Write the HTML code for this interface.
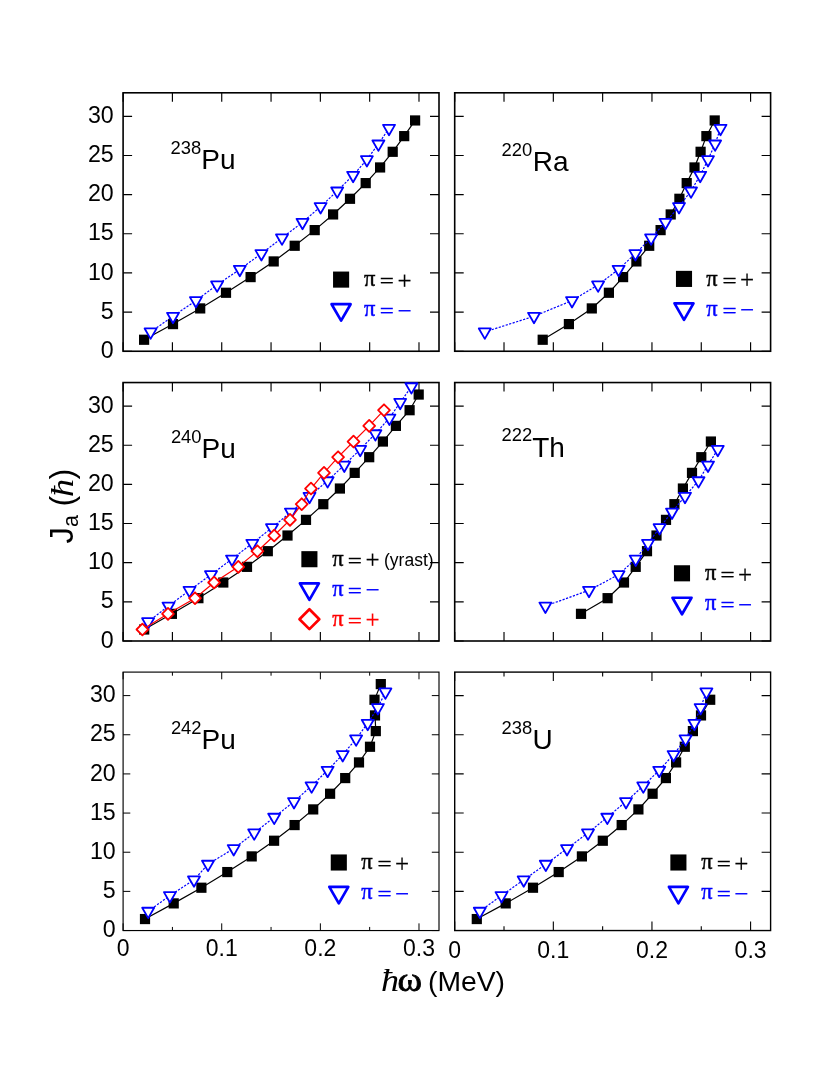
<!DOCTYPE html>
<html><head><meta charset="utf-8"><title>J_a vs hbar omega</title>
<style>
html,body{margin:0;padding:0;background:#fff;}
body{width:830px;height:1075px;overflow:hidden;font-family:"Liberation Sans",sans-serif;}
svg{display:block;will-change:transform;}
</style></head><body>
<svg width="830" height="1075" viewBox="0 0 830 1075">
<rect width="830" height="1075" fill="#fff"/>
<rect x="123.10" y="92.80" width="315.90" height="258.45" fill="none" stroke="#000" stroke-width="1.6"/>
<path d="M123.10 351.25v-9.00M123.10 92.80v9.00M172.41 351.25v-9.00M172.41 92.80v9.00M221.73 351.25v-9.00M221.73 92.80v9.00M271.05 351.25v-9.00M271.05 92.80v9.00M320.36 351.25v-9.00M320.36 92.80v9.00M369.67 351.25v-9.00M369.67 92.80v9.00M418.99 351.25v-9.00M418.99 92.80v9.00M123.10 351.25h9.00M439.00 351.25h-9.00M123.10 312.09h9.00M439.00 312.09h-9.00M123.10 272.93h9.00M439.00 272.93h-9.00M123.10 233.77h9.00M439.00 233.77h-9.00M123.10 194.61h9.00M439.00 194.61h-9.00M123.10 155.45h9.00M439.00 155.45h-9.00M123.10 116.30h9.00M439.00 116.30h-9.00" stroke="#000" stroke-width="1.15" fill="none"/>
<path d="M144.10 339.75 L173.00 324.09 L200.20 308.43 L226.00 292.76 L250.60 277.10 L273.70 261.43 L294.70 245.77 L314.70 230.11 L333.10 214.44 L350.00 198.78 L365.70 183.12 L380.10 167.45 L392.70 151.79 L404.20 136.13 L415.10 120.46" stroke="#000" stroke-width="1.2" fill="none"/>
<rect x="139.00" y="334.65" width="10.20" height="10.20" fill="#000"/>
<rect x="167.90" y="318.99" width="10.20" height="10.20" fill="#000"/>
<rect x="195.10" y="303.32" width="10.20" height="10.20" fill="#000"/>
<rect x="220.90" y="287.66" width="10.20" height="10.20" fill="#000"/>
<rect x="245.50" y="272.00" width="10.20" height="10.20" fill="#000"/>
<rect x="268.60" y="256.33" width="10.20" height="10.20" fill="#000"/>
<rect x="289.60" y="240.67" width="10.20" height="10.20" fill="#000"/>
<rect x="309.60" y="225.01" width="10.20" height="10.20" fill="#000"/>
<rect x="328.00" y="209.34" width="10.20" height="10.20" fill="#000"/>
<rect x="344.90" y="193.68" width="10.20" height="10.20" fill="#000"/>
<rect x="360.60" y="178.02" width="10.20" height="10.20" fill="#000"/>
<rect x="375.00" y="162.35" width="10.20" height="10.20" fill="#000"/>
<rect x="387.60" y="146.69" width="10.20" height="10.20" fill="#000"/>
<rect x="399.10" y="131.03" width="10.20" height="10.20" fill="#000"/>
<rect x="410.00" y="115.36" width="10.20" height="10.20" fill="#000"/>
<path d="M150.60 331.92 L173.00 316.26 L195.90 300.59 L217.10 284.93 L239.80 269.27 L261.40 253.60 L282.00 237.94 L302.50 222.28 L320.60 206.61 L337.20 190.95 L353.10 175.28 L366.90 159.62 L378.40 143.96 L389.00 128.29" stroke="#0000ff" stroke-width="1.2" fill="none" stroke-dasharray="2.2 1.45"/>
<path d="M150.60 338.85L156.60 328.46L144.60 328.46Z" fill="#fff" stroke="#0000ff" stroke-width="1.8" stroke-linejoin="round"/>
<path d="M173.00 323.19L179.00 312.79L167.00 312.79Z" fill="#fff" stroke="#0000ff" stroke-width="1.8" stroke-linejoin="round"/>
<path d="M195.90 307.52L201.90 297.13L189.90 297.13Z" fill="#fff" stroke="#0000ff" stroke-width="1.8" stroke-linejoin="round"/>
<path d="M217.10 291.86L223.10 281.47L211.10 281.47Z" fill="#fff" stroke="#0000ff" stroke-width="1.8" stroke-linejoin="round"/>
<path d="M239.80 276.19L245.80 265.80L233.80 265.80Z" fill="#fff" stroke="#0000ff" stroke-width="1.8" stroke-linejoin="round"/>
<path d="M261.40 260.53L267.40 250.14L255.40 250.14Z" fill="#fff" stroke="#0000ff" stroke-width="1.8" stroke-linejoin="round"/>
<path d="M282.00 244.87L288.00 234.47L276.00 234.47Z" fill="#fff" stroke="#0000ff" stroke-width="1.8" stroke-linejoin="round"/>
<path d="M302.50 229.20L308.50 218.81L296.50 218.81Z" fill="#fff" stroke="#0000ff" stroke-width="1.8" stroke-linejoin="round"/>
<path d="M320.60 213.54L326.60 203.15L314.60 203.15Z" fill="#fff" stroke="#0000ff" stroke-width="1.8" stroke-linejoin="round"/>
<path d="M337.20 197.88L343.20 187.48L331.20 187.48Z" fill="#fff" stroke="#0000ff" stroke-width="1.8" stroke-linejoin="round"/>
<path d="M353.10 182.21L359.10 171.82L347.10 171.82Z" fill="#fff" stroke="#0000ff" stroke-width="1.8" stroke-linejoin="round"/>
<path d="M366.90 166.55L372.90 156.16L360.90 156.16Z" fill="#fff" stroke="#0000ff" stroke-width="1.8" stroke-linejoin="round"/>
<path d="M378.40 150.89L384.40 140.49L372.40 140.49Z" fill="#fff" stroke="#0000ff" stroke-width="1.8" stroke-linejoin="round"/>
<path d="M389.00 135.22L395.00 124.83L383.00 124.83Z" fill="#fff" stroke="#0000ff" stroke-width="1.8" stroke-linejoin="round"/>
<rect x="333.05" y="271.55" width="16.10" height="16.10" fill="#000"/>
<path d="M341.10 320.67L350.60 304.22L331.60 304.22Z" fill="#fff" stroke="#0000ff" stroke-width="2.7" stroke-linejoin="round"/>
<text x="364.00" y="286.00" font-size="22.5" font-family="Liberation Serif, serif" text-anchor="start" fill="#000" stroke="#000" stroke-width="0.45">π</text>
<g transform="translate(379.75,288) scale(1.25,1)">
<text x="0.00" y="0.00" font-size="20" font-family="Liberation Serif, serif" text-anchor="start" fill="#000" stroke="#000" stroke-width="0.35">=</text>
</g>
<text x="397.45" y="289.00" font-size="25" font-family="Liberation Serif, serif" text-anchor="start" fill="#000" stroke="#000" stroke-width="0.2">+</text>
<text x="364.00" y="316.00" font-size="22.5" font-family="Liberation Serif, serif" text-anchor="start" fill="#0000ff" stroke="#0000ff" stroke-width="0.45">π</text>
<g transform="translate(379.75,318) scale(1.25,1)">
<text x="0.00" y="0.00" font-size="20" font-family="Liberation Serif, serif" text-anchor="start" fill="#0000ff" stroke="#0000ff" stroke-width="0.35">=</text>
</g>
<text x="397.45" y="319.00" font-size="25" font-family="Liberation Serif, serif" text-anchor="start" fill="#0000ff" stroke="#0000ff" stroke-width="0.2">−</text>
<text x="170.60" y="154.00" font-size="18.4" font-family="Liberation Sans, sans-serif" text-anchor="start" fill="#000">238</text>
<text x="201.30" y="169.00" font-size="28" font-family="Liberation Sans, sans-serif" text-anchor="start" fill="#000">Pu</text>
<rect x="454.70" y="92.80" width="315.90" height="258.45" fill="none" stroke="#000" stroke-width="1.6"/>
<path d="M454.70 351.25v-9.00M454.70 92.80v9.00M504.01 351.25v-9.00M504.01 92.80v9.00M553.33 351.25v-9.00M553.33 92.80v9.00M602.64 351.25v-9.00M602.64 92.80v9.00M651.96 351.25v-9.00M651.96 92.80v9.00M701.27 351.25v-9.00M701.27 92.80v9.00M750.59 351.25v-9.00M750.59 92.80v9.00M454.70 351.25h9.00M770.60 351.25h-9.00M454.70 312.09h9.00M770.60 312.09h-9.00M454.70 272.93h9.00M770.60 272.93h-9.00M454.70 233.77h9.00M770.60 233.77h-9.00M454.70 194.61h9.00M770.60 194.61h-9.00M454.70 155.45h9.00M770.60 155.45h-9.00M454.70 116.30h9.00M770.60 116.30h-9.00" stroke="#000" stroke-width="1.15" fill="none"/>
<path d="M542.70 339.75 L568.90 324.09 L591.80 308.43 L608.90 292.76 L623.10 277.10 L636.40 261.43 L649.20 245.77 L660.60 230.11 L670.70 214.44 L679.40 198.78 L686.70 183.12 L694.50 167.45 L700.60 151.79 L706.40 136.13 L714.70 120.46" stroke="#000" stroke-width="1.2" fill="none"/>
<rect x="537.60" y="334.65" width="10.20" height="10.20" fill="#000"/>
<rect x="563.80" y="318.99" width="10.20" height="10.20" fill="#000"/>
<rect x="586.70" y="303.32" width="10.20" height="10.20" fill="#000"/>
<rect x="603.80" y="287.66" width="10.20" height="10.20" fill="#000"/>
<rect x="618.00" y="272.00" width="10.20" height="10.20" fill="#000"/>
<rect x="631.30" y="256.33" width="10.20" height="10.20" fill="#000"/>
<rect x="644.10" y="240.67" width="10.20" height="10.20" fill="#000"/>
<rect x="655.50" y="225.01" width="10.20" height="10.20" fill="#000"/>
<rect x="665.60" y="209.34" width="10.20" height="10.20" fill="#000"/>
<rect x="674.30" y="193.68" width="10.20" height="10.20" fill="#000"/>
<rect x="681.60" y="178.02" width="10.20" height="10.20" fill="#000"/>
<rect x="689.40" y="162.35" width="10.20" height="10.20" fill="#000"/>
<rect x="695.50" y="146.69" width="10.20" height="10.20" fill="#000"/>
<rect x="701.30" y="131.03" width="10.20" height="10.20" fill="#000"/>
<rect x="709.60" y="115.36" width="10.20" height="10.20" fill="#000"/>
<path d="M484.80 331.92 L534.00 316.26 L572.00 300.59 L598.10 284.93 L618.60 269.27 L635.40 253.60 L651.10 237.94 L665.50 222.28 L679.00 206.61 L691.00 190.95 L700.20 175.28 L708.00 159.62 L715.10 143.96 L720.50 128.29" stroke="#0000ff" stroke-width="1.2" fill="none" stroke-dasharray="2.2 1.45"/>
<path d="M484.80 338.85L490.80 328.46L478.80 328.46Z" fill="#fff" stroke="#0000ff" stroke-width="1.8" stroke-linejoin="round"/>
<path d="M534.00 323.19L540.00 312.79L528.00 312.79Z" fill="#fff" stroke="#0000ff" stroke-width="1.8" stroke-linejoin="round"/>
<path d="M572.00 307.52L578.00 297.13L566.00 297.13Z" fill="#fff" stroke="#0000ff" stroke-width="1.8" stroke-linejoin="round"/>
<path d="M598.10 291.86L604.10 281.47L592.10 281.47Z" fill="#fff" stroke="#0000ff" stroke-width="1.8" stroke-linejoin="round"/>
<path d="M618.60 276.19L624.60 265.80L612.60 265.80Z" fill="#fff" stroke="#0000ff" stroke-width="1.8" stroke-linejoin="round"/>
<path d="M635.40 260.53L641.40 250.14L629.40 250.14Z" fill="#fff" stroke="#0000ff" stroke-width="1.8" stroke-linejoin="round"/>
<path d="M651.10 244.87L657.10 234.47L645.10 234.47Z" fill="#fff" stroke="#0000ff" stroke-width="1.8" stroke-linejoin="round"/>
<path d="M665.50 229.20L671.50 218.81L659.50 218.81Z" fill="#fff" stroke="#0000ff" stroke-width="1.8" stroke-linejoin="round"/>
<path d="M679.00 213.54L685.00 203.15L673.00 203.15Z" fill="#fff" stroke="#0000ff" stroke-width="1.8" stroke-linejoin="round"/>
<path d="M691.00 197.88L697.00 187.48L685.00 187.48Z" fill="#fff" stroke="#0000ff" stroke-width="1.8" stroke-linejoin="round"/>
<path d="M700.20 182.21L706.20 171.82L694.20 171.82Z" fill="#fff" stroke="#0000ff" stroke-width="1.8" stroke-linejoin="round"/>
<path d="M708.00 166.55L714.00 156.16L702.00 156.16Z" fill="#fff" stroke="#0000ff" stroke-width="1.8" stroke-linejoin="round"/>
<path d="M715.10 150.89L721.10 140.49L709.10 140.49Z" fill="#fff" stroke="#0000ff" stroke-width="1.8" stroke-linejoin="round"/>
<path d="M720.50 135.22L726.50 124.83L714.50 124.83Z" fill="#fff" stroke="#0000ff" stroke-width="1.8" stroke-linejoin="round"/>
<rect x="675.95" y="270.85" width="16.10" height="16.10" fill="#000"/>
<path d="M684.00 319.82L693.50 303.37L674.50 303.37Z" fill="#fff" stroke="#0000ff" stroke-width="2.7" stroke-linejoin="round"/>
<text x="706.30" y="286.00" font-size="22.5" font-family="Liberation Serif, serif" text-anchor="start" fill="#000" stroke="#000" stroke-width="0.45">π</text>
<g transform="translate(722.45,288) scale(1.25,1)">
<text x="0.00" y="0.00" font-size="20" font-family="Liberation Serif, serif" text-anchor="start" fill="#000" stroke="#000" stroke-width="0.35">=</text>
</g>
<text x="739.95" y="288.00" font-size="25" font-family="Liberation Serif, serif" text-anchor="start" fill="#000" stroke="#000" stroke-width="0.2">+</text>
<text x="706.30" y="316.00" font-size="22.5" font-family="Liberation Serif, serif" text-anchor="start" fill="#0000ff" stroke="#0000ff" stroke-width="0.45">π</text>
<g transform="translate(722.45,318) scale(1.25,1)">
<text x="0.00" y="0.00" font-size="20" font-family="Liberation Serif, serif" text-anchor="start" fill="#0000ff" stroke="#0000ff" stroke-width="0.35">=</text>
</g>
<text x="739.95" y="318.00" font-size="25" font-family="Liberation Serif, serif" text-anchor="start" fill="#0000ff" stroke="#0000ff" stroke-width="0.2">−</text>
<text x="501.60" y="156.00" font-size="18.4" font-family="Liberation Sans, sans-serif" text-anchor="start" fill="#000">220</text>
<text x="532.70" y="171.00" font-size="28" font-family="Liberation Sans, sans-serif" text-anchor="start" fill="#000">Ra</text>
<rect x="123.10" y="382.55" width="315.90" height="258.45" fill="none" stroke="#000" stroke-width="1.6"/>
<path d="M123.10 641.00v-9.00M123.10 382.55v9.00M172.41 641.00v-9.00M172.41 382.55v9.00M221.73 641.00v-9.00M221.73 382.55v9.00M271.05 641.00v-9.00M271.05 382.55v9.00M320.36 641.00v-9.00M320.36 382.55v9.00M369.67 641.00v-9.00M369.67 382.55v9.00M418.99 641.00v-9.00M418.99 382.55v9.00M123.10 641.00h9.00M439.00 641.00h-9.00M123.10 601.84h9.00M439.00 601.84h-9.00M123.10 562.68h9.00M439.00 562.68h-9.00M123.10 523.52h9.00M439.00 523.52h-9.00M123.10 484.36h9.00M439.00 484.36h-9.00M123.10 445.20h9.00M439.00 445.20h-9.00M123.10 406.05h9.00M439.00 406.05h-9.00" stroke="#000" stroke-width="1.15" fill="none"/>
<path d="M144.20 629.50 L171.90 613.84 L198.40 598.17 L223.30 582.51 L247.00 566.85 L267.80 551.18 L287.50 535.52 L306.00 519.86 L323.30 504.19 L339.90 488.53 L354.70 472.87 L369.20 457.20 L382.90 441.54 L395.90 425.88 L409.60 410.21 L418.70 394.55" stroke="#000" stroke-width="1.2" fill="none"/>
<rect x="139.10" y="624.40" width="10.20" height="10.20" fill="#000"/>
<rect x="166.80" y="608.74" width="10.20" height="10.20" fill="#000"/>
<rect x="193.30" y="593.07" width="10.20" height="10.20" fill="#000"/>
<rect x="218.20" y="577.41" width="10.20" height="10.20" fill="#000"/>
<rect x="241.90" y="561.75" width="10.20" height="10.20" fill="#000"/>
<rect x="262.70" y="546.08" width="10.20" height="10.20" fill="#000"/>
<rect x="282.40" y="530.42" width="10.20" height="10.20" fill="#000"/>
<rect x="300.90" y="514.76" width="10.20" height="10.20" fill="#000"/>
<rect x="318.20" y="499.09" width="10.20" height="10.20" fill="#000"/>
<rect x="334.80" y="483.43" width="10.20" height="10.20" fill="#000"/>
<rect x="349.60" y="467.77" width="10.20" height="10.20" fill="#000"/>
<rect x="364.10" y="452.10" width="10.20" height="10.20" fill="#000"/>
<rect x="377.80" y="436.44" width="10.20" height="10.20" fill="#000"/>
<rect x="390.80" y="420.77" width="10.20" height="10.20" fill="#000"/>
<rect x="404.50" y="405.11" width="10.20" height="10.20" fill="#000"/>
<rect x="413.60" y="389.45" width="10.20" height="10.20" fill="#000"/>
<path d="M148.10 621.67 L168.50 606.01 L189.50 590.34 L211.00 574.68 L232.00 559.02 L252.30 543.35 L272.00 527.69 L290.90 512.02 L309.50 496.36 L327.60 480.70 L344.30 465.03 L360.20 449.37 L375.40 433.71 L389.40 418.04 L400.20 402.38 L411.40 386.72" stroke="#0000ff" stroke-width="1.2" fill="none" stroke-dasharray="2.2 1.45"/>
<path d="M148.10 628.60L154.10 618.21L142.10 618.21Z" fill="#fff" stroke="#0000ff" stroke-width="1.8" stroke-linejoin="round"/>
<path d="M168.50 612.94L174.50 602.54L162.50 602.54Z" fill="#fff" stroke="#0000ff" stroke-width="1.8" stroke-linejoin="round"/>
<path d="M189.50 597.27L195.50 586.88L183.50 586.88Z" fill="#fff" stroke="#0000ff" stroke-width="1.8" stroke-linejoin="round"/>
<path d="M211.00 581.61L217.00 571.22L205.00 571.22Z" fill="#fff" stroke="#0000ff" stroke-width="1.8" stroke-linejoin="round"/>
<path d="M232.00 565.94L238.00 555.55L226.00 555.55Z" fill="#fff" stroke="#0000ff" stroke-width="1.8" stroke-linejoin="round"/>
<path d="M252.30 550.28L258.30 539.89L246.30 539.89Z" fill="#fff" stroke="#0000ff" stroke-width="1.8" stroke-linejoin="round"/>
<path d="M272.00 534.62L278.00 524.22L266.00 524.22Z" fill="#fff" stroke="#0000ff" stroke-width="1.8" stroke-linejoin="round"/>
<path d="M290.90 518.95L296.90 508.56L284.90 508.56Z" fill="#fff" stroke="#0000ff" stroke-width="1.8" stroke-linejoin="round"/>
<path d="M309.50 503.29L315.50 492.90L303.50 492.90Z" fill="#fff" stroke="#0000ff" stroke-width="1.8" stroke-linejoin="round"/>
<path d="M327.60 487.63L333.60 477.23L321.60 477.23Z" fill="#fff" stroke="#0000ff" stroke-width="1.8" stroke-linejoin="round"/>
<path d="M344.30 471.96L350.30 461.57L338.30 461.57Z" fill="#fff" stroke="#0000ff" stroke-width="1.8" stroke-linejoin="round"/>
<path d="M360.20 456.30L366.20 445.91L354.20 445.91Z" fill="#fff" stroke="#0000ff" stroke-width="1.8" stroke-linejoin="round"/>
<path d="M375.40 440.64L381.40 430.24L369.40 430.24Z" fill="#fff" stroke="#0000ff" stroke-width="1.8" stroke-linejoin="round"/>
<path d="M389.40 424.97L395.40 414.58L383.40 414.58Z" fill="#fff" stroke="#0000ff" stroke-width="1.8" stroke-linejoin="round"/>
<path d="M400.20 409.31L406.20 398.92L394.20 398.92Z" fill="#fff" stroke="#0000ff" stroke-width="1.8" stroke-linejoin="round"/>
<path d="M411.40 393.64L417.40 383.25L405.40 383.25Z" fill="#fff" stroke="#0000ff" stroke-width="1.8" stroke-linejoin="round"/>
<path d="M142.40 629.50 L168.00 613.84 L195.00 598.17 L214.10 582.51 L238.30 566.85 L257.40 551.18 L274.20 535.52 L290.00 519.86 L301.70 504.19 L311.00 488.53 L324.00 472.87 L338.10 457.20 L353.50 441.54 L369.20 425.88 L384.00 410.21" stroke="#ff0000" stroke-width="1.2" fill="none"/>
<path d="M142.40 623.60L148.30 629.50L142.40 635.40L136.50 629.50Z" fill="#fff" stroke="#ff0000" stroke-width="1.8" stroke-linejoin="round"/>
<path d="M168.00 607.94L173.90 613.84L168.00 619.74L162.10 613.84Z" fill="#fff" stroke="#ff0000" stroke-width="1.8" stroke-linejoin="round"/>
<path d="M195.00 592.27L200.90 598.17L195.00 604.07L189.10 598.17Z" fill="#fff" stroke="#ff0000" stroke-width="1.8" stroke-linejoin="round"/>
<path d="M214.10 576.61L220.00 582.51L214.10 588.41L208.20 582.51Z" fill="#fff" stroke="#ff0000" stroke-width="1.8" stroke-linejoin="round"/>
<path d="M238.30 560.95L244.20 566.85L238.30 572.75L232.40 566.85Z" fill="#fff" stroke="#ff0000" stroke-width="1.8" stroke-linejoin="round"/>
<path d="M257.40 545.28L263.30 551.18L257.40 557.08L251.50 551.18Z" fill="#fff" stroke="#ff0000" stroke-width="1.8" stroke-linejoin="round"/>
<path d="M274.20 529.62L280.10 535.52L274.20 541.42L268.30 535.52Z" fill="#fff" stroke="#ff0000" stroke-width="1.8" stroke-linejoin="round"/>
<path d="M290.00 513.96L295.90 519.86L290.00 525.76L284.10 519.86Z" fill="#fff" stroke="#ff0000" stroke-width="1.8" stroke-linejoin="round"/>
<path d="M301.70 498.29L307.60 504.19L301.70 510.09L295.80 504.19Z" fill="#fff" stroke="#ff0000" stroke-width="1.8" stroke-linejoin="round"/>
<path d="M311.00 482.63L316.90 488.53L311.00 494.43L305.10 488.53Z" fill="#fff" stroke="#ff0000" stroke-width="1.8" stroke-linejoin="round"/>
<path d="M324.00 466.97L329.90 472.87L324.00 478.77L318.10 472.87Z" fill="#fff" stroke="#ff0000" stroke-width="1.8" stroke-linejoin="round"/>
<path d="M338.10 451.30L344.00 457.20L338.10 463.10L332.20 457.20Z" fill="#fff" stroke="#ff0000" stroke-width="1.8" stroke-linejoin="round"/>
<path d="M353.50 435.64L359.40 441.54L353.50 447.44L347.60 441.54Z" fill="#fff" stroke="#ff0000" stroke-width="1.8" stroke-linejoin="round"/>
<path d="M369.20 419.98L375.10 425.88L369.20 431.77L363.30 425.88Z" fill="#fff" stroke="#ff0000" stroke-width="1.8" stroke-linejoin="round"/>
<path d="M384.00 404.31L389.90 410.21L384.00 416.11L378.10 410.21Z" fill="#fff" stroke="#ff0000" stroke-width="1.8" stroke-linejoin="round"/>
<rect x="301.35" y="551.15" width="16.10" height="16.10" fill="#000"/>
<path d="M309.40 599.87L318.90 583.42L299.90 583.42Z" fill="#fff" stroke="#0000ff" stroke-width="2.7" stroke-linejoin="round"/>
<text x="332.20" y="566.00" font-size="22.5" font-family="Liberation Serif, serif" text-anchor="start" fill="#000" stroke="#000" stroke-width="0.45">π</text>
<g transform="translate(347.85,568) scale(1.25,1)">
<text x="0.00" y="0.00" font-size="20" font-family="Liberation Serif, serif" text-anchor="start" fill="#000" stroke="#000" stroke-width="0.35">=</text>
</g>
<text x="365.45" y="568.00" font-size="25" font-family="Liberation Serif, serif" text-anchor="start" fill="#000" stroke="#000" stroke-width="0.2">+</text>
<text x="332.20" y="596.00" font-size="22.5" font-family="Liberation Serif, serif" text-anchor="start" fill="#0000ff" stroke="#0000ff" stroke-width="0.45">π</text>
<g transform="translate(347.85,598) scale(1.25,1)">
<text x="0.00" y="0.00" font-size="20" font-family="Liberation Serif, serif" text-anchor="start" fill="#0000ff" stroke="#0000ff" stroke-width="0.35">=</text>
</g>
<text x="365.45" y="598.00" font-size="25" font-family="Liberation Serif, serif" text-anchor="start" fill="#0000ff" stroke="#0000ff" stroke-width="0.2">−</text>
<path d="M309.40 609.30L319.30 619.20L309.40 629.10L299.50 619.20Z" fill="#fff" stroke="#ff0000" stroke-width="2.7" stroke-linejoin="round"/>
<text x="332.20" y="626.00" font-size="22.5" font-family="Liberation Serif, serif" text-anchor="start" fill="#ff0000" stroke="#ff0000" stroke-width="0.45">π</text>
<g transform="translate(347.85,628) scale(1.25,1)">
<text x="0.00" y="0.00" font-size="20" font-family="Liberation Serif, serif" text-anchor="start" fill="#ff0000" stroke="#ff0000" stroke-width="0.35">=</text>
</g>
<text x="365.45" y="628.00" font-size="25" font-family="Liberation Serif, serif" text-anchor="start" fill="#ff0000" stroke="#ff0000" stroke-width="0.2">+</text>
<text x="384.00" y="566.20" font-size="17.5" font-family="Liberation Sans, sans-serif" text-anchor="start" fill="#000">(yrast)</text>
<text x="170.90" y="443.00" font-size="18.4" font-family="Liberation Sans, sans-serif" text-anchor="start" fill="#000">240</text>
<text x="201.60" y="458.00" font-size="28" font-family="Liberation Sans, sans-serif" text-anchor="start" fill="#000">Pu</text>
<rect x="454.70" y="382.55" width="315.90" height="258.45" fill="none" stroke="#000" stroke-width="1.6"/>
<path d="M454.70 641.00v-9.00M454.70 382.55v9.00M504.01 641.00v-9.00M504.01 382.55v9.00M553.33 641.00v-9.00M553.33 382.55v9.00M602.64 641.00v-9.00M602.64 382.55v9.00M651.96 641.00v-9.00M651.96 382.55v9.00M701.27 641.00v-9.00M701.27 382.55v9.00M750.59 641.00v-9.00M750.59 382.55v9.00M454.70 641.00h9.00M770.60 641.00h-9.00M454.70 601.84h9.00M770.60 601.84h-9.00M454.70 562.68h9.00M770.60 562.68h-9.00M454.70 523.52h9.00M770.60 523.52h-9.00M454.70 484.36h9.00M770.60 484.36h-9.00M454.70 445.20h9.00M770.60 445.20h-9.00M454.70 406.05h9.00M770.60 406.05h-9.00" stroke="#000" stroke-width="1.15" fill="none"/>
<path d="M581.00 613.84 L607.60 598.17 L624.00 582.51 L635.70 566.85 L647.00 551.18 L656.50 535.52 L666.00 519.86 L674.40 504.19 L682.90 488.53 L692.00 472.87 L701.30 457.20 L710.90 441.54" stroke="#000" stroke-width="1.2" fill="none"/>
<rect x="575.90" y="608.74" width="10.20" height="10.20" fill="#000"/>
<rect x="602.50" y="593.07" width="10.20" height="10.20" fill="#000"/>
<rect x="618.90" y="577.41" width="10.20" height="10.20" fill="#000"/>
<rect x="630.60" y="561.75" width="10.20" height="10.20" fill="#000"/>
<rect x="641.90" y="546.08" width="10.20" height="10.20" fill="#000"/>
<rect x="651.40" y="530.42" width="10.20" height="10.20" fill="#000"/>
<rect x="660.90" y="514.76" width="10.20" height="10.20" fill="#000"/>
<rect x="669.30" y="499.09" width="10.20" height="10.20" fill="#000"/>
<rect x="677.80" y="483.43" width="10.20" height="10.20" fill="#000"/>
<rect x="686.90" y="467.77" width="10.20" height="10.20" fill="#000"/>
<rect x="696.20" y="452.10" width="10.20" height="10.20" fill="#000"/>
<rect x="705.80" y="436.44" width="10.20" height="10.20" fill="#000"/>
<path d="M545.40 606.01 L589.00 590.34 L618.50 574.68 L635.70 559.02 L648.00 543.35 L659.60 527.69 L672.00 512.02 L685.00 496.36 L698.50 480.70 L708.00 465.03 L717.80 449.37" stroke="#0000ff" stroke-width="1.2" fill="none" stroke-dasharray="2.2 1.45"/>
<path d="M545.40 612.94L551.40 602.54L539.40 602.54Z" fill="#fff" stroke="#0000ff" stroke-width="1.8" stroke-linejoin="round"/>
<path d="M589.00 597.27L595.00 586.88L583.00 586.88Z" fill="#fff" stroke="#0000ff" stroke-width="1.8" stroke-linejoin="round"/>
<path d="M618.50 581.61L624.50 571.22L612.50 571.22Z" fill="#fff" stroke="#0000ff" stroke-width="1.8" stroke-linejoin="round"/>
<path d="M635.70 565.94L641.70 555.55L629.70 555.55Z" fill="#fff" stroke="#0000ff" stroke-width="1.8" stroke-linejoin="round"/>
<path d="M648.00 550.28L654.00 539.89L642.00 539.89Z" fill="#fff" stroke="#0000ff" stroke-width="1.8" stroke-linejoin="round"/>
<path d="M659.60 534.62L665.60 524.22L653.60 524.22Z" fill="#fff" stroke="#0000ff" stroke-width="1.8" stroke-linejoin="round"/>
<path d="M672.00 518.95L678.00 508.56L666.00 508.56Z" fill="#fff" stroke="#0000ff" stroke-width="1.8" stroke-linejoin="round"/>
<path d="M685.00 503.29L691.00 492.90L679.00 492.90Z" fill="#fff" stroke="#0000ff" stroke-width="1.8" stroke-linejoin="round"/>
<path d="M698.50 487.63L704.50 477.23L692.50 477.23Z" fill="#fff" stroke="#0000ff" stroke-width="1.8" stroke-linejoin="round"/>
<path d="M708.00 471.96L714.00 461.57L702.00 461.57Z" fill="#fff" stroke="#0000ff" stroke-width="1.8" stroke-linejoin="round"/>
<path d="M717.80 456.30L723.80 445.91L711.80 445.91Z" fill="#fff" stroke="#0000ff" stroke-width="1.8" stroke-linejoin="round"/>
<rect x="673.95" y="565.25" width="16.10" height="16.10" fill="#000"/>
<path d="M682.00 614.22L691.50 597.77L672.50 597.77Z" fill="#fff" stroke="#0000ff" stroke-width="2.7" stroke-linejoin="round"/>
<text x="705.00" y="580.00" font-size="22.5" font-family="Liberation Serif, serif" text-anchor="start" fill="#000" stroke="#000" stroke-width="0.45">π</text>
<g transform="translate(720.45,582) scale(1.25,1)">
<text x="0.00" y="0.00" font-size="20" font-family="Liberation Serif, serif" text-anchor="start" fill="#000" stroke="#000" stroke-width="0.35">=</text>
</g>
<text x="737.95" y="583.00" font-size="25" font-family="Liberation Serif, serif" text-anchor="start" fill="#000" stroke="#000" stroke-width="0.2">+</text>
<text x="705.00" y="610.00" font-size="22.5" font-family="Liberation Serif, serif" text-anchor="start" fill="#0000ff" stroke="#0000ff" stroke-width="0.45">π</text>
<g transform="translate(720.45,612) scale(1.25,1)">
<text x="0.00" y="0.00" font-size="20" font-family="Liberation Serif, serif" text-anchor="start" fill="#0000ff" stroke="#0000ff" stroke-width="0.35">=</text>
</g>
<text x="737.95" y="613.00" font-size="25" font-family="Liberation Serif, serif" text-anchor="start" fill="#0000ff" stroke="#0000ff" stroke-width="0.2">−</text>
<text x="501.60" y="441.00" font-size="18.4" font-family="Liberation Sans, sans-serif" text-anchor="start" fill="#000">222</text>
<text x="532.20" y="457.00" font-size="28" font-family="Liberation Sans, sans-serif" text-anchor="start" fill="#000">Th</text>
<rect x="123.10" y="672.10" width="315.90" height="258.45" fill="none" stroke="#000" stroke-width="1.15"/>
<path d="M123.10 930.55v-7.20M123.10 672.10v7.20M172.41 930.55v-3.60M172.41 672.10v3.60M221.73 930.55v-7.20M221.73 672.10v7.20M271.05 930.55v-3.60M271.05 672.10v3.60M320.36 930.55v-7.20M320.36 672.10v7.20M369.67 930.55v-3.60M369.67 672.10v3.60M418.99 930.55v-7.20M418.99 672.10v7.20M123.10 930.55h7.20M439.00 930.55h-7.20M123.10 891.39h7.20M439.00 891.39h-7.20M123.10 852.23h7.20M439.00 852.23h-7.20M123.10 813.07h7.20M439.00 813.07h-7.20M123.10 773.91h7.20M439.00 773.91h-7.20M123.10 734.75h7.20M439.00 734.75h-7.20M123.10 695.60h7.20M439.00 695.60h-7.20" stroke="#000" stroke-width="1.0" fill="none"/>
<path d="M145.00 919.05 L173.70 903.39 L201.40 887.72 L227.30 872.06 L251.70 856.40 L274.10 840.73 L294.60 825.07 L313.20 809.41 L330.10 793.74 L345.20 778.08 L359.00 762.42 L370.00 746.75 L375.80 731.09 L375.00 715.42 L374.50 699.76 L380.80 684.10" stroke="#000" stroke-width="1.2" fill="none"/>
<rect x="139.90" y="913.95" width="10.20" height="10.20" fill="#000"/>
<rect x="168.60" y="898.29" width="10.20" height="10.20" fill="#000"/>
<rect x="196.30" y="882.62" width="10.20" height="10.20" fill="#000"/>
<rect x="222.20" y="866.96" width="10.20" height="10.20" fill="#000"/>
<rect x="246.60" y="851.30" width="10.20" height="10.20" fill="#000"/>
<rect x="269.00" y="835.63" width="10.20" height="10.20" fill="#000"/>
<rect x="289.50" y="819.97" width="10.20" height="10.20" fill="#000"/>
<rect x="308.10" y="804.31" width="10.20" height="10.20" fill="#000"/>
<rect x="325.00" y="788.64" width="10.20" height="10.20" fill="#000"/>
<rect x="340.10" y="772.98" width="10.20" height="10.20" fill="#000"/>
<rect x="353.90" y="757.32" width="10.20" height="10.20" fill="#000"/>
<rect x="364.90" y="741.65" width="10.20" height="10.20" fill="#000"/>
<rect x="370.70" y="725.99" width="10.20" height="10.20" fill="#000"/>
<rect x="369.90" y="710.32" width="10.20" height="10.20" fill="#000"/>
<rect x="369.40" y="694.66" width="10.20" height="10.20" fill="#000"/>
<rect x="375.70" y="679.00" width="10.20" height="10.20" fill="#000"/>
<path d="M148.20 911.22 L169.90 895.56 L194.00 879.89 L208.00 864.23 L233.70 848.57 L254.20 832.90 L274.20 817.24 L294.00 801.57 L311.60 785.91 L327.60 770.25 L342.70 754.58 L356.10 738.92 L367.70 723.26 L377.90 707.59 L385.40 691.93" stroke="#0000ff" stroke-width="1.2" fill="none" stroke-dasharray="2.2 1.45"/>
<path d="M148.20 918.15L154.20 907.76L142.20 907.76Z" fill="#fff" stroke="#0000ff" stroke-width="1.8" stroke-linejoin="round"/>
<path d="M169.90 902.49L175.90 892.09L163.90 892.09Z" fill="#fff" stroke="#0000ff" stroke-width="1.8" stroke-linejoin="round"/>
<path d="M194.00 886.82L200.00 876.43L188.00 876.43Z" fill="#fff" stroke="#0000ff" stroke-width="1.8" stroke-linejoin="round"/>
<path d="M208.00 871.16L214.00 860.77L202.00 860.77Z" fill="#fff" stroke="#0000ff" stroke-width="1.8" stroke-linejoin="round"/>
<path d="M233.70 855.49L239.70 845.10L227.70 845.10Z" fill="#fff" stroke="#0000ff" stroke-width="1.8" stroke-linejoin="round"/>
<path d="M254.20 839.83L260.20 829.44L248.20 829.44Z" fill="#fff" stroke="#0000ff" stroke-width="1.8" stroke-linejoin="round"/>
<path d="M274.20 824.17L280.20 813.77L268.20 813.77Z" fill="#fff" stroke="#0000ff" stroke-width="1.8" stroke-linejoin="round"/>
<path d="M294.00 808.50L300.00 798.11L288.00 798.11Z" fill="#fff" stroke="#0000ff" stroke-width="1.8" stroke-linejoin="round"/>
<path d="M311.60 792.84L317.60 782.45L305.60 782.45Z" fill="#fff" stroke="#0000ff" stroke-width="1.8" stroke-linejoin="round"/>
<path d="M327.60 777.18L333.60 766.78L321.60 766.78Z" fill="#fff" stroke="#0000ff" stroke-width="1.8" stroke-linejoin="round"/>
<path d="M342.70 761.51L348.70 751.12L336.70 751.12Z" fill="#fff" stroke="#0000ff" stroke-width="1.8" stroke-linejoin="round"/>
<path d="M356.10 745.85L362.10 735.46L350.10 735.46Z" fill="#fff" stroke="#0000ff" stroke-width="1.8" stroke-linejoin="round"/>
<path d="M367.70 730.19L373.70 719.79L361.70 719.79Z" fill="#fff" stroke="#0000ff" stroke-width="1.8" stroke-linejoin="round"/>
<path d="M377.90 714.52L383.90 704.13L371.90 704.13Z" fill="#fff" stroke="#0000ff" stroke-width="1.8" stroke-linejoin="round"/>
<path d="M385.40 698.86L391.40 688.47L379.40 688.47Z" fill="#fff" stroke="#0000ff" stroke-width="1.8" stroke-linejoin="round"/>
<rect x="330.75" y="854.45" width="16.10" height="16.10" fill="#000"/>
<path d="M338.80 903.37L348.30 886.92L329.30 886.92Z" fill="#fff" stroke="#0000ff" stroke-width="2.7" stroke-linejoin="round"/>
<text x="361.30" y="869.00" font-size="22.5" font-family="Liberation Serif, serif" text-anchor="start" fill="#000" stroke="#000" stroke-width="0.45">π</text>
<g transform="translate(377.45,871) scale(1.25,1)">
<text x="0.00" y="0.00" font-size="20" font-family="Liberation Serif, serif" text-anchor="start" fill="#000" stroke="#000" stroke-width="0.35">=</text>
</g>
<text x="394.95" y="872.00" font-size="25" font-family="Liberation Serif, serif" text-anchor="start" fill="#000" stroke="#000" stroke-width="0.2">+</text>
<text x="361.30" y="899.00" font-size="22.5" font-family="Liberation Serif, serif" text-anchor="start" fill="#0000ff" stroke="#0000ff" stroke-width="0.45">π</text>
<g transform="translate(377.45,901) scale(1.25,1)">
<text x="0.00" y="0.00" font-size="20" font-family="Liberation Serif, serif" text-anchor="start" fill="#0000ff" stroke="#0000ff" stroke-width="0.35">=</text>
</g>
<text x="394.95" y="902.00" font-size="25" font-family="Liberation Serif, serif" text-anchor="start" fill="#0000ff" stroke="#0000ff" stroke-width="0.2">−</text>
<text x="170.90" y="734.00" font-size="18.4" font-family="Liberation Sans, sans-serif" text-anchor="start" fill="#000">242</text>
<text x="201.60" y="749.00" font-size="28" font-family="Liberation Sans, sans-serif" text-anchor="start" fill="#000">Pu</text>
<rect x="454.70" y="672.10" width="315.90" height="258.45" fill="none" stroke="#000" stroke-width="1.4"/>
<path d="M454.70 930.55v-9.00M454.70 672.10v9.00M504.01 930.55v-4.40M504.01 672.10v4.40M553.33 930.55v-9.00M553.33 672.10v9.00M602.64 930.55v-4.40M602.64 672.10v4.40M651.96 930.55v-9.00M651.96 672.10v9.00M701.27 930.55v-4.40M701.27 672.10v4.40M750.59 930.55v-9.00M750.59 672.10v9.00M454.70 930.55h9.00M770.60 930.55h-9.00M454.70 891.39h9.00M770.60 891.39h-9.00M454.70 852.23h9.00M770.60 852.23h-9.00M454.70 813.07h9.00M770.60 813.07h-9.00M454.70 773.91h9.00M770.60 773.91h-9.00M454.70 734.75h9.00M770.60 734.75h-9.00M454.70 695.60h9.00M770.60 695.60h-9.00" stroke="#000" stroke-width="1.1" fill="none"/>
<path d="M476.80 919.05 L505.70 903.39 L533.00 887.72 L558.70 872.06 L581.90 856.40 L602.80 840.73 L621.70 825.07 L638.40 809.41 L652.60 793.74 L665.90 778.08 L676.10 762.42 L684.80 746.75 L692.90 731.09 L701.00 715.42 L710.20 699.76" stroke="#000" stroke-width="1.2" fill="none"/>
<rect x="471.70" y="913.95" width="10.20" height="10.20" fill="#000"/>
<rect x="500.60" y="898.29" width="10.20" height="10.20" fill="#000"/>
<rect x="527.90" y="882.62" width="10.20" height="10.20" fill="#000"/>
<rect x="553.60" y="866.96" width="10.20" height="10.20" fill="#000"/>
<rect x="576.80" y="851.30" width="10.20" height="10.20" fill="#000"/>
<rect x="597.70" y="835.63" width="10.20" height="10.20" fill="#000"/>
<rect x="616.60" y="819.97" width="10.20" height="10.20" fill="#000"/>
<rect x="633.30" y="804.31" width="10.20" height="10.20" fill="#000"/>
<rect x="647.50" y="788.64" width="10.20" height="10.20" fill="#000"/>
<rect x="660.80" y="772.98" width="10.20" height="10.20" fill="#000"/>
<rect x="671.00" y="757.32" width="10.20" height="10.20" fill="#000"/>
<rect x="679.70" y="741.65" width="10.20" height="10.20" fill="#000"/>
<rect x="687.80" y="725.99" width="10.20" height="10.20" fill="#000"/>
<rect x="695.90" y="710.32" width="10.20" height="10.20" fill="#000"/>
<rect x="705.10" y="694.66" width="10.20" height="10.20" fill="#000"/>
<path d="M479.80 911.22 L501.50 895.56 L523.70 879.89 L545.80 864.23 L567.00 848.57 L588.00 832.90 L607.30 817.24 L626.00 801.57 L643.30 785.91 L659.20 770.25 L673.60 754.58 L685.60 738.92 L694.40 723.26 L700.60 707.59 L706.40 691.93" stroke="#0000ff" stroke-width="1.2" fill="none" stroke-dasharray="2.2 1.45"/>
<path d="M479.80 918.15L485.80 907.76L473.80 907.76Z" fill="#fff" stroke="#0000ff" stroke-width="1.8" stroke-linejoin="round"/>
<path d="M501.50 902.49L507.50 892.09L495.50 892.09Z" fill="#fff" stroke="#0000ff" stroke-width="1.8" stroke-linejoin="round"/>
<path d="M523.70 886.82L529.70 876.43L517.70 876.43Z" fill="#fff" stroke="#0000ff" stroke-width="1.8" stroke-linejoin="round"/>
<path d="M545.80 871.16L551.80 860.77L539.80 860.77Z" fill="#fff" stroke="#0000ff" stroke-width="1.8" stroke-linejoin="round"/>
<path d="M567.00 855.49L573.00 845.10L561.00 845.10Z" fill="#fff" stroke="#0000ff" stroke-width="1.8" stroke-linejoin="round"/>
<path d="M588.00 839.83L594.00 829.44L582.00 829.44Z" fill="#fff" stroke="#0000ff" stroke-width="1.8" stroke-linejoin="round"/>
<path d="M607.30 824.17L613.30 813.77L601.30 813.77Z" fill="#fff" stroke="#0000ff" stroke-width="1.8" stroke-linejoin="round"/>
<path d="M626.00 808.50L632.00 798.11L620.00 798.11Z" fill="#fff" stroke="#0000ff" stroke-width="1.8" stroke-linejoin="round"/>
<path d="M643.30 792.84L649.30 782.45L637.30 782.45Z" fill="#fff" stroke="#0000ff" stroke-width="1.8" stroke-linejoin="round"/>
<path d="M659.20 777.18L665.20 766.78L653.20 766.78Z" fill="#fff" stroke="#0000ff" stroke-width="1.8" stroke-linejoin="round"/>
<path d="M673.60 761.51L679.60 751.12L667.60 751.12Z" fill="#fff" stroke="#0000ff" stroke-width="1.8" stroke-linejoin="round"/>
<path d="M685.60 745.85L691.60 735.46L679.60 735.46Z" fill="#fff" stroke="#0000ff" stroke-width="1.8" stroke-linejoin="round"/>
<path d="M694.40 730.19L700.40 719.79L688.40 719.79Z" fill="#fff" stroke="#0000ff" stroke-width="1.8" stroke-linejoin="round"/>
<path d="M700.60 714.52L706.60 704.13L694.60 704.13Z" fill="#fff" stroke="#0000ff" stroke-width="1.8" stroke-linejoin="round"/>
<path d="M706.40 698.86L712.40 688.47L700.40 688.47Z" fill="#fff" stroke="#0000ff" stroke-width="1.8" stroke-linejoin="round"/>
<rect x="670.35" y="854.45" width="16.10" height="16.10" fill="#000"/>
<path d="M678.40 903.37L687.90 886.92L668.90 886.92Z" fill="#fff" stroke="#0000ff" stroke-width="2.7" stroke-linejoin="round"/>
<text x="701.30" y="869.00" font-size="22.5" font-family="Liberation Serif, serif" text-anchor="start" fill="#000" stroke="#000" stroke-width="0.45">π</text>
<g transform="translate(716.65,871) scale(1.25,1)">
<text x="0.00" y="0.00" font-size="20" font-family="Liberation Serif, serif" text-anchor="start" fill="#000" stroke="#000" stroke-width="0.35">=</text>
</g>
<text x="734.15" y="872.00" font-size="25" font-family="Liberation Serif, serif" text-anchor="start" fill="#000" stroke="#000" stroke-width="0.2">+</text>
<text x="701.30" y="899.00" font-size="22.5" font-family="Liberation Serif, serif" text-anchor="start" fill="#0000ff" stroke="#0000ff" stroke-width="0.45">π</text>
<g transform="translate(716.65,901) scale(1.25,1)">
<text x="0.00" y="0.00" font-size="20" font-family="Liberation Serif, serif" text-anchor="start" fill="#0000ff" stroke="#0000ff" stroke-width="0.35">=</text>
</g>
<text x="734.15" y="902.00" font-size="25" font-family="Liberation Serif, serif" text-anchor="start" fill="#0000ff" stroke="#0000ff" stroke-width="0.2">−</text>
<text x="501.60" y="734.00" font-size="18.4" font-family="Liberation Sans, sans-serif" text-anchor="start" fill="#000">238</text>
<text x="532.40" y="749.00" font-size="28" font-family="Liberation Sans, sans-serif" text-anchor="start" fill="#000">U</text>
<text x="113.70" y="357.85" font-size="23.2" font-family="Liberation Sans, sans-serif" text-anchor="end" fill="#000">0</text>
<text x="113.70" y="318.69" font-size="23.2" font-family="Liberation Sans, sans-serif" text-anchor="end" fill="#000">5</text>
<text x="113.70" y="279.53" font-size="23.2" font-family="Liberation Sans, sans-serif" text-anchor="end" fill="#000">10</text>
<text x="113.70" y="240.37" font-size="23.2" font-family="Liberation Sans, sans-serif" text-anchor="end" fill="#000">15</text>
<text x="113.70" y="201.21" font-size="23.2" font-family="Liberation Sans, sans-serif" text-anchor="end" fill="#000">20</text>
<text x="113.70" y="162.05" font-size="23.2" font-family="Liberation Sans, sans-serif" text-anchor="end" fill="#000">25</text>
<text x="113.70" y="122.90" font-size="23.2" font-family="Liberation Sans, sans-serif" text-anchor="end" fill="#000">30</text>
<text x="113.70" y="647.60" font-size="23.2" font-family="Liberation Sans, sans-serif" text-anchor="end" fill="#000">0</text>
<text x="113.70" y="608.44" font-size="23.2" font-family="Liberation Sans, sans-serif" text-anchor="end" fill="#000">5</text>
<text x="113.70" y="569.28" font-size="23.2" font-family="Liberation Sans, sans-serif" text-anchor="end" fill="#000">10</text>
<text x="113.70" y="530.12" font-size="23.2" font-family="Liberation Sans, sans-serif" text-anchor="end" fill="#000">15</text>
<text x="113.70" y="490.96" font-size="23.2" font-family="Liberation Sans, sans-serif" text-anchor="end" fill="#000">20</text>
<text x="113.70" y="451.80" font-size="23.2" font-family="Liberation Sans, sans-serif" text-anchor="end" fill="#000">25</text>
<text x="113.70" y="412.65" font-size="23.2" font-family="Liberation Sans, sans-serif" text-anchor="end" fill="#000">30</text>
<text x="115.70" y="937.15" font-size="23.2" font-family="Liberation Sans, sans-serif" text-anchor="end" fill="#000">0</text>
<text x="115.70" y="897.99" font-size="23.2" font-family="Liberation Sans, sans-serif" text-anchor="end" fill="#000">5</text>
<text x="115.70" y="858.83" font-size="23.2" font-family="Liberation Sans, sans-serif" text-anchor="end" fill="#000">10</text>
<text x="115.70" y="819.67" font-size="23.2" font-family="Liberation Sans, sans-serif" text-anchor="end" fill="#000">15</text>
<text x="115.70" y="780.51" font-size="23.2" font-family="Liberation Sans, sans-serif" text-anchor="end" fill="#000">20</text>
<text x="115.70" y="741.35" font-size="23.2" font-family="Liberation Sans, sans-serif" text-anchor="end" fill="#000">25</text>
<text x="115.70" y="702.20" font-size="23.2" font-family="Liberation Sans, sans-serif" text-anchor="end" fill="#000">30</text>
<text x="123.10" y="956.00" font-size="23" font-family="Liberation Sans, sans-serif" text-anchor="middle" fill="#000">0</text>
<text x="221.73" y="956.00" font-size="23" font-family="Liberation Sans, sans-serif" text-anchor="middle" fill="#000">0.1</text>
<text x="320.36" y="956.00" font-size="23" font-family="Liberation Sans, sans-serif" text-anchor="middle" fill="#000">0.2</text>
<text x="418.99" y="956.00" font-size="23" font-family="Liberation Sans, sans-serif" text-anchor="middle" fill="#000">0.3</text>
<text x="454.70" y="958.00" font-size="23" font-family="Liberation Sans, sans-serif" text-anchor="middle" fill="#000">0</text>
<text x="553.33" y="958.00" font-size="23" font-family="Liberation Sans, sans-serif" text-anchor="middle" fill="#000">0.1</text>
<text x="651.96" y="958.00" font-size="23" font-family="Liberation Sans, sans-serif" text-anchor="middle" fill="#000">0.2</text>
<text x="750.59" y="958.00" font-size="23" font-family="Liberation Sans, sans-serif" text-anchor="middle" fill="#000">0.3</text>
<g transform="translate(380.9,991) scale(1.13,1)">
<text x="0.00" y="0.00" font-size="32" font-family="Liberation Serif, serif" text-anchor="start" fill="#000" font-style="italic">ħ</text>
</g>
<g transform="translate(397.6,991) scale(1.08,1)">
<text x="0.00" y="0.00" font-size="34.5" font-family="Liberation Serif, serif" text-anchor="start" fill="#000" stroke="#000" stroke-width="0.8">ω</text>
</g>
<text x="428.00" y="991.00" font-size="28.3" font-family="Liberation Sans, sans-serif" text-anchor="start" fill="#000">(MeV)</text>
<g transform="translate(72.6,543.6) rotate(-90)">
<text x="0.00" y="0.00" font-size="33" font-family="Liberation Sans, sans-serif" text-anchor="start" fill="#000">J</text>
<text x="16.60" y="5.10" font-size="21.5" font-family="Liberation Sans, sans-serif" text-anchor="start" fill="#000">a</text>
<text x="37.00" y="0.00" font-size="32.5" font-family="Liberation Sans, sans-serif" text-anchor="start" fill="#000">(</text>
<g transform="translate(46.6,0) scale(1.13,1)">
<text x="0.00" y="0.00" font-size="32" font-family="Liberation Serif, serif" text-anchor="start" fill="#000" font-style="italic">ħ</text>
</g>
<text x="64.00" y="0.00" font-size="32.5" font-family="Liberation Sans, sans-serif" text-anchor="start" fill="#000">)</text>
</g>
</svg>
</body></html>
